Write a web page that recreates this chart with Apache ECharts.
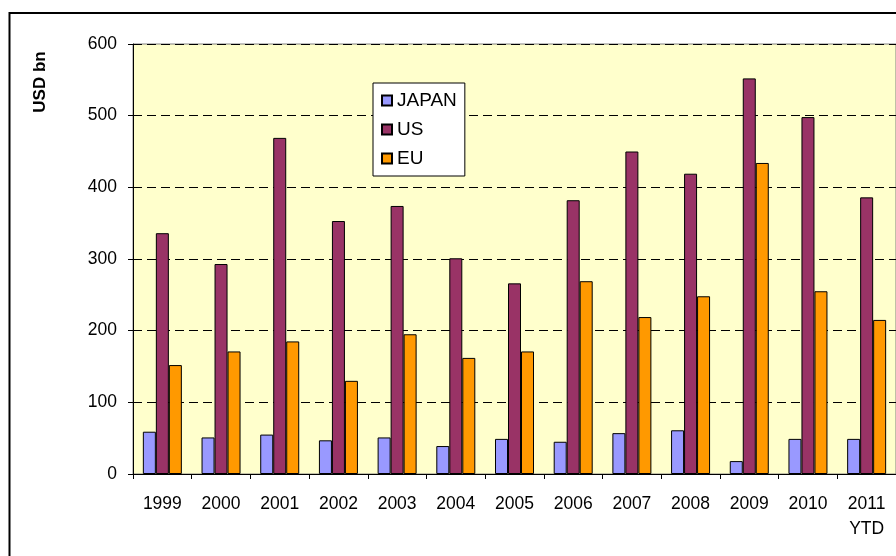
<!DOCTYPE html>
<html>
<head>
<meta charset="utf-8">
<script src="https://cdn.jsdelivr.net/npm/echarts@6/dist/echarts.min.js"></script>
<style>
  html, body { margin: 0; padding: 0; background: #fff; }
  #chart { width: 896px; height: 556px; }
</style>
</head>
<body>
<div id="chart"></div>
<script>
// categories and values
const years = ['1999', '2000', '2001', '2002', '2003', '2004', '2005', '2006', '2007', '2008', '2009', '2010', '2011\nYTD'];
const japan = [59, 51, 55, 47, 51, 39, 49, 45, 57, 61, 18, 49, 49];
const us = [336, 293, 469, 353, 374, 301, 266, 382, 450, 419, 552, 498, 386];
const eu = [152, 171, 185, 130, 195, 162, 171, 269, 219, 248, 434, 255, 215];
const yTicks = [0, 100, 200, 300, 400, 500, 600];

const font = 'Arial, "Liberation Sans", sans-serif';

let myChart = echarts.init(document.getElementById('chart'));

function bar(name, data, color) {
  return {
    name: name,
    type: 'bar',
    data: data,
    barWidth: 13,
    barGap: '0%',
    itemStyle: { color: color, borderColor: '#000', borderWidth: 1 }
  };
}

let options = {
  animation: false,
  textStyle: { fontFamily: font },
  grid: {
    left: 133, top: 44, width: 771, bottom: 82,
    show: true, backgroundColor: '#FFFFCC', borderColor: '#808080', borderWidth: 1
  },
  graphic: [
    {
      type: 'rect', x: 9.5, y: 13, z: 100, silent: true,
      shape: { x: 0, y: 0, width: 900, height: 560 },
      style: { fill: 'none', stroke: '#000', lineWidth: 2 }
    },
    {
      type: 'text', x: 40, y: 82, rotation: Math.PI / 2, z: 100,
      style: {
        text: 'USD bn', font: 'bold 17px ' + font, fill: '#000',
        align: 'center', verticalAlign: 'middle'
      }
    }
  ],
  legend: {
    orient: 'vertical', left: 373, top: 83,
    data: ['JAPAN', 'US', 'EU'],
    icon: 'rect', itemWidth: 10, itemHeight: 10, itemGap: 10,
    padding: [8, 8, 8, 8],
    backgroundColor: '#fff', borderColor: '#000', borderWidth: 1,
    textStyle: { fontSize: 19, color: '#000', fontFamily: font }
  },
  xAxis: {
    type: 'category',
    data: years,
    axisLine: { lineStyle: { color: '#000' } },
    axisTick: { show: true, length: 5, lineStyle: { color: '#000' } },
    axisLabel: { color: '#000', fontSize: 17.5, lineHeight: 25, margin: 18, interval: 0 }
  },
  yAxis: {
    type: 'value', min: yTicks[0], max: yTicks[yTicks.length - 1], interval: 100,
    axisLine: { show: true, lineStyle: { color: '#000' } },
    axisTick: { show: true, length: 5, lineStyle: { color: '#000' } },
    axisLabel: { color: '#000', fontSize: 17.5, margin: 16 },
    splitLine: { lineStyle: { color: '#000', type: [9, 5] } }
  },
  series: [
    bar('JAPAN', japan, '#9999FF'),
    bar('US', us, '#993366'),
    bar('EU', eu, '#FF9900')
  ]
};

myChart.setOption(options);
</script>
</body>
</html>
